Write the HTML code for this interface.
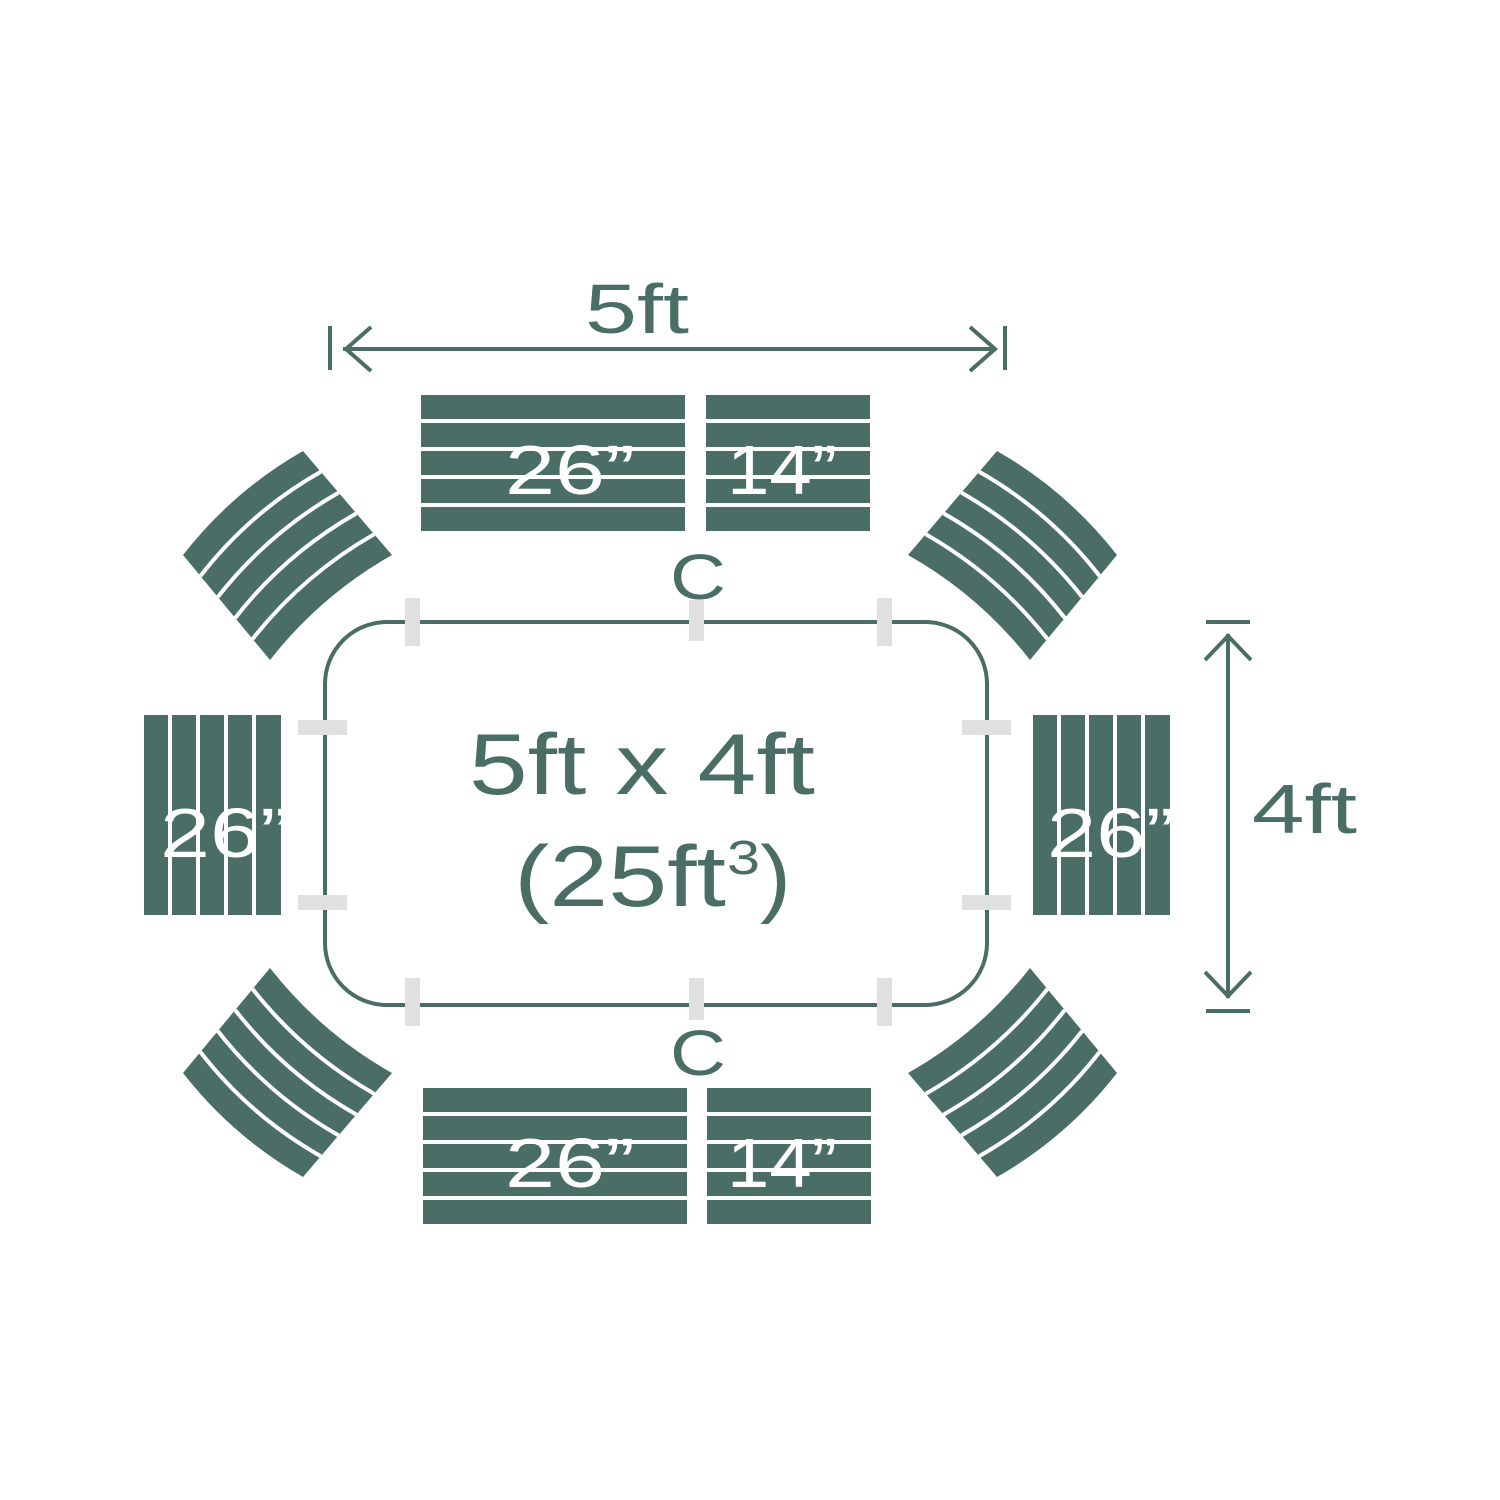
<!DOCTYPE html>
<html><head><meta charset="utf-8"><style>
html,body{margin:0;padding:0;background:#fff;}
svg{display:block;}
text{font-family:"Liberation Sans",sans-serif;}
</style></head><body>
<svg width="1500" height="1500" viewBox="0 0 1500 1500" xmlns="http://www.w3.org/2000/svg">
<defs>
<g id="arc">
  <path d="M183,555 Q233,491 303,451 L392,555 Q321,595 270,660 Z" fill="#4a6e66"/>
  <g fill="none" stroke="#fff" stroke-width="4">
    <path d="M200.4,576 Q250,512 320.8,471.8"/>
    <path d="M217.8,597 Q268,533 338.6,492.6"/>
    <path d="M235.2,618 Q285,554 356.4,513.4"/>
    <path d="M252.6,639 Q303,575 374.2,534.2"/>
  </g>
</g>
</defs>
<rect width="1500" height="1500" fill="#fff"/>

<use href="#arc"/>
<use href="#arc" transform="translate(1300,0) scale(-1,1)"/>
<use href="#arc" transform="translate(0,1628) scale(1,-1)"/>
<use href="#arc" transform="translate(1300,1628) scale(-1,-1)"/>

<g fill="#4a6e66">
  <rect x="421" y="395" width="264" height="136"/>
  <rect x="706" y="395" width="164" height="136"/>
  <rect x="423" y="1088" width="264" height="136"/>
  <rect x="707" y="1088" width="164" height="136"/>
  <rect x="144" y="715" width="137" height="200"/>
  <rect x="1033" y="715" width="137" height="200"/>
</g>
<g fill="#fff">
  <rect x="421" y="419" width="450" height="4"/>
  <rect x="421" y="447" width="450" height="4"/>
  <rect x="421" y="475" width="450" height="4"/>
  <rect x="421" y="503" width="450" height="4"/>
  <rect x="423" y="1112" width="450" height="4"/>
  <rect x="423" y="1140" width="450" height="4"/>
  <rect x="423" y="1168" width="450" height="4"/>
  <rect x="423" y="1196" width="450" height="4"/>
  <rect x="168" y="715" width="4" height="200"/>
  <rect x="196" y="715" width="4" height="200"/>
  <rect x="224" y="715" width="4" height="200"/>
  <rect x="252" y="715" width="4" height="200"/>
  <rect x="1057" y="715" width="4" height="200"/>
  <rect x="1085" y="715" width="4" height="200"/>
  <rect x="1113" y="715" width="4" height="200"/>
  <rect x="1141" y="715" width="4" height="200"/>
</g>
<g fill="#fff" font-size="70">
  <text x="505" y="494" textLength="130" lengthAdjust="spacingAndGlyphs">26”</text>
  <text x="727" y="494" textLength="110" lengthAdjust="spacingAndGlyphs">14”</text>
  <text x="505" y="1187" textLength="130" lengthAdjust="spacingAndGlyphs">26”</text>
  <text x="727" y="1187" textLength="110" lengthAdjust="spacingAndGlyphs">14”</text>
  <text x="160" y="857" textLength="130" lengthAdjust="spacingAndGlyphs">26”</text>
  <text x="1047" y="857" textLength="128" lengthAdjust="spacingAndGlyphs">26”</text>
</g>

<rect x="325" y="622" width="662" height="383" rx="62" fill="none" stroke="#4a6e66" stroke-width="4"/>
<g fill="#e0e0e0">
  <rect x="405" y="598" width="15" height="48"/>
  <rect x="689" y="600" width="15" height="41"/>
  <rect x="877" y="598" width="15" height="48"/>
  <rect x="405" y="978" width="15" height="48"/>
  <rect x="689" y="978" width="15" height="42"/>
  <rect x="877" y="978" width="15" height="48"/>
  <rect x="298" y="720" width="49" height="15"/>
  <rect x="298" y="895" width="49" height="15"/>
  <rect x="962" y="720" width="49" height="15"/>
  <rect x="962" y="895" width="49" height="15"/>
</g>
<g fill="#4a6e66">
  <text x="670" y="599" font-size="64" textLength="56" lengthAdjust="spacingAndGlyphs">C</text>
  <text x="670" y="1075" font-size="64" textLength="56" lengthAdjust="spacingAndGlyphs">C</text>
  <text x="469" y="794" font-size="86" textLength="346" lengthAdjust="spacingAndGlyphs">5ft x 4ft</text>
  <text x="514" y="906" font-size="86" textLength="212" lengthAdjust="spacingAndGlyphs">(25ft</text>
  <text x="727" y="874" font-size="48" textLength="33" lengthAdjust="spacingAndGlyphs">3</text>
  <text x="760" y="906" font-size="86" textLength="31" lengthAdjust="spacingAndGlyphs">)</text>
  <text x="585" y="333" font-size="70" textLength="104" lengthAdjust="spacingAndGlyphs">5ft</text>
  <text x="1252" y="833" font-size="70" textLength="105" lengthAdjust="spacingAndGlyphs">4ft</text>
</g>

<g stroke="#4a6e66" stroke-width="4" fill="none">
  <line x1="330" y1="326" x2="330" y2="370"/>
  <line x1="1005" y1="326" x2="1005" y2="370"/>
  <line x1="343" y1="349" x2="995" y2="349"/>
  <polyline points="371,327 346,349 371,371"/>
  <polyline points="970,327 995,349 970,371"/>
  <line x1="1206" y1="622" x2="1250" y2="622"/>
  <line x1="1206" y1="1011" x2="1250" y2="1011"/>
  <line x1="1228" y1="634" x2="1228" y2="998"/>
  <polyline points="1205,660 1228,636 1251,660"/>
  <polyline points="1205,972 1228,996 1251,972"/>
</g>
</svg>
</body></html>
